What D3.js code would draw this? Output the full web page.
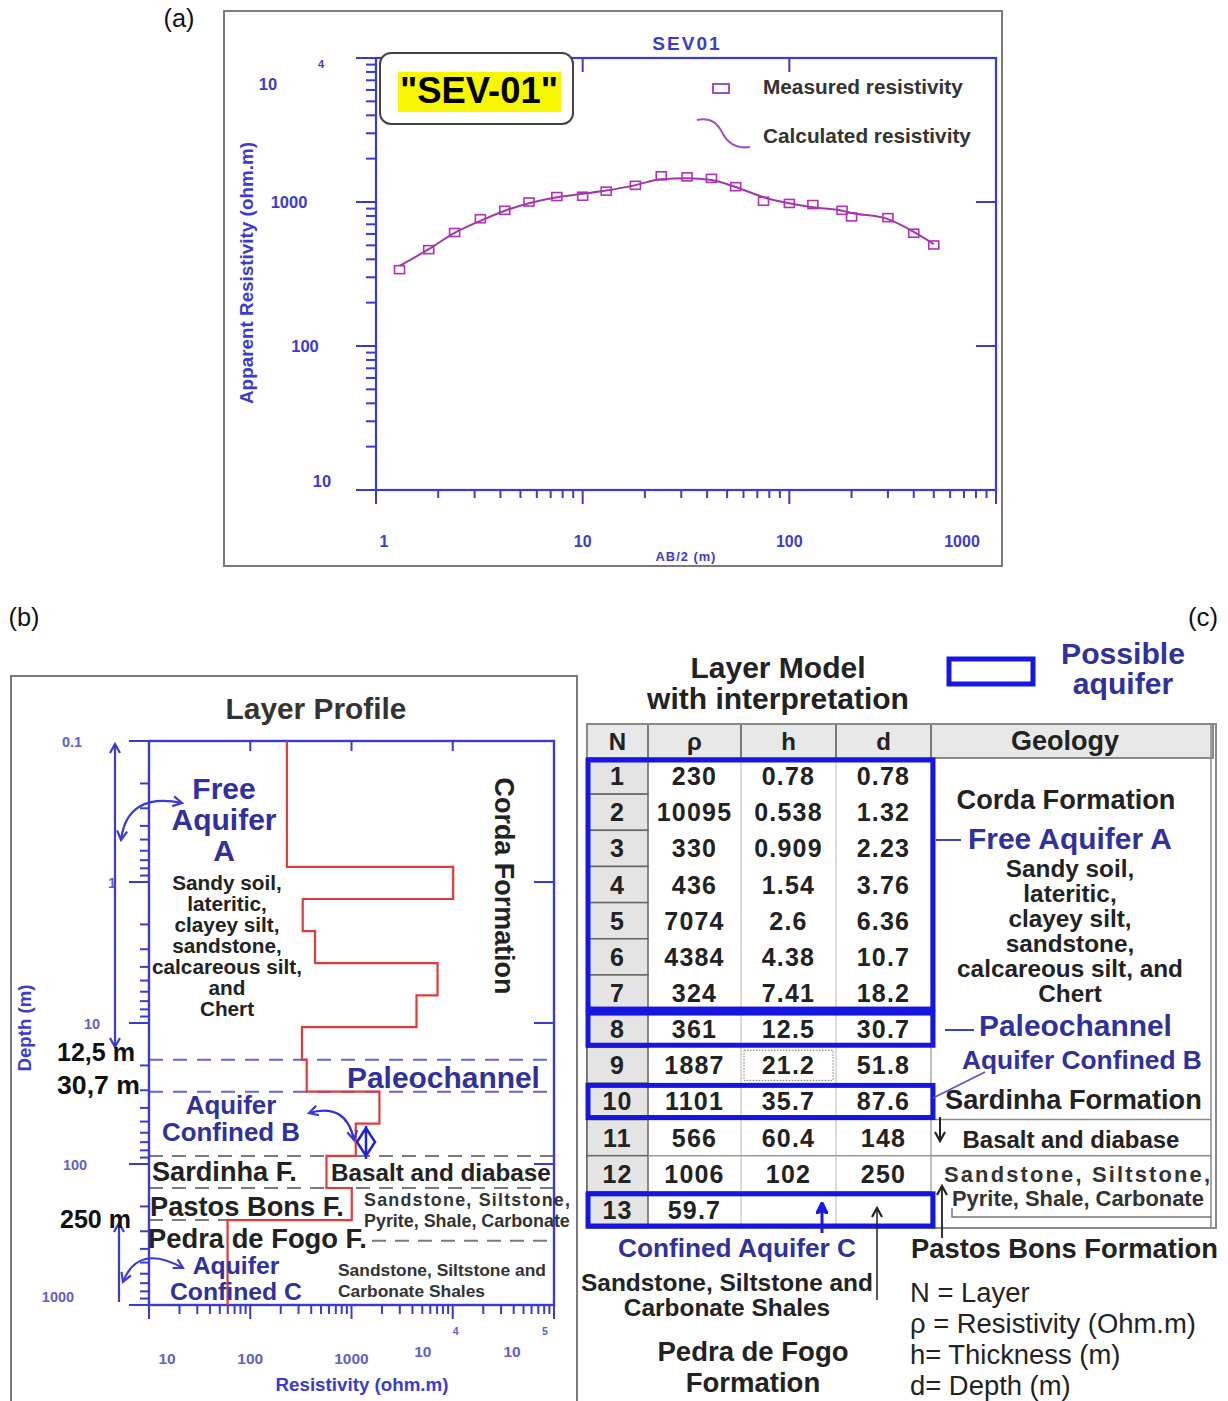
<!DOCTYPE html>
<html><head><meta charset="utf-8">
<script src="https://cdn.jsdelivr.net/npm/d3@7"></script>
<style>body{margin:0;background:#fff}svg{display:block}</style>
</head><body>
<svg id="c" width="1228" height="1401"></svg>
<script>
// ---------------- DATA ----------------
// (a) sounding curve
const ab2 = [1.3,1.8,2.4,3.2,4.2,5.5,7.5,10,13,18,24,32,42,55,75,100,130,180,200,300,400,500];
const rhoMeasured = [339,467,614,765,875,1000,1091,1097,1190,1306,1520,1494,1459,1277,1012,977,960,875,788,779,607,503];
const rhoCalculated = [360,470,610,740,870,980,1080,1140,1200,1310,1440,1460,1420,1270,1080,980,920,870,840,760,620,510];
const ticksA_x = [1,10,100,1000];
const ticksA_y = [10,100,1000,10000];
// (b)/(c) layer model
const layerN = [1,2,3,4,5,6,7,8,9,10,11,12,13];
const layerRho = [230,10095,330,436,7074,4384,324,361,1887,1101,566,1006,59.7];
const layerH = [0.78,0.538,0.909,1.54,2.6,4.38,7.41,12.5,21.2,35.7,60.4,102,null];
const layerD = [0.78,1.32,2.23,3.76,6.36,10.7,18.2,30.7,51.8,87.6,148,250,null];
const aquiferRows = [[1,7],[8,8],[10,10],[13,13]];
const ticksB_depth = [0.1,1,10,100,1000];
const ticksB_res = [10,100,1000,10000,100000];

// ---------------- HELPERS ----------------
const svg = d3.select('#c');
const FF = "'Liberation Sans', Arial, Helvetica, sans-serif";
const AX = '#3b3bd2';
const BT = '#30309e';
const DK = '#222';
const isMajor = v => Math.abs(Math.log10(v) - Math.round(Math.log10(v))) < 1e-6;

function txt(g, lines, o) {
  const t = g.append('text').attr('font-family', FF)
    .attr('font-weight', o.weight || 'bold').attr('fill', o.fill || DK)
    .attr('text-anchor', o.anchor || 'middle').style('font-size', (o.size || 20) + 'px');
  if (o.ls) t.style('letter-spacing', o.ls + 'px');
  const sp = lines.map((s, i) => t.append('tspan').attr('x', o.x).attr('y', o.y + i * (o.lh || 0)).text(s));
  if (o.w) {
    const m = d3.max(sp, s => s.node().getComputedTextLength());
    t.style('font-size', ((o.size || 20) * o.w / m) + 'px');
  }
  if (o.justify) sp.forEach((s, i) => {
    const j = Array.isArray(o.justify) ? o.justify[i] : o.justify;
    if (j) s.attr('textLength', j).attr('lengthAdjust', 'spacing');
  });
  if (o.rot) t.attr('transform', `rotate(${o.rot},${o.x},${o.y})`);
  return t;
}
const defs = svg.append('defs');
function marker(id, color, filled) {
  defs.append('marker').attr('id', id).attr('viewBox', '0 0 12 12').attr('refX', 10).attr('refY', 6)
    .attr('markerWidth', 12).attr('markerHeight', 12).attr('markerUnits', 'userSpaceOnUse')
    .attr('orient', 'auto-start-reverse')
    .append('path').attr('d', filled ? 'M0,0 L12,6 L0,12 L3,6 Z' : 'M1,1 L10,6 L1,11')
    .attr('fill', filled ? color : 'none').attr('stroke', color).attr('stroke-width', 2.2);
}
marker('cb', AX, false); marker('ck', '#222', false); marker('fb', '#1a1ae0', true);

// ---------------- PANEL (a) ----------------
svg.append('rect').attr('x', 224).attr('y', 11).attr('width', 778).attr('height', 555)
  .attr('fill', 'none').attr('stroke', '#7a7a7a').attr('stroke-width', 2);
const xA = d3.scaleLog().domain([1, 1000]).range([376, 996]);
const yA = d3.scaleLog().domain([10, 10000]).range([490, 58]);
const gA = svg.append('g');
gA.append('rect').attr('x', xA(1)).attr('y', yA(10000)).attr('width', xA(1000) - xA(1))
  .attr('height', yA(10) - yA(10000)).attr('fill', 'none').attr('stroke', AX).attr('stroke-width', 2.2);
gA.selectAll('.ly').data(yA.ticks()).join('line')
  .attr('x1', d => xA(1) - (isMajor(d) ? 20 : 10)).attr('x2', xA(1))
  .attr('y1', d => yA(d)).attr('y2', d => yA(d)).attr('stroke', AX).attr('stroke-width', 2);
gA.selectAll('.bx').data(xA.ticks()).join('line')
  .attr('x1', d => xA(d)).attr('x2', d => xA(d))
  .attr('y1', yA(10)).attr('y2', d => yA(10) + (isMajor(d) ? 14 : 8)).attr('stroke', AX).attr('stroke-width', 2);
gA.selectAll('.tx').data([10, 100]).join('line')
  .attr('x1', d => xA(d)).attr('x2', d => xA(d)).attr('y1', yA(10000)).attr('y2', yA(10000) + 14)
  .attr('stroke', AX).attr('stroke-width', 2);
gA.selectAll('.ry').data([100, 1000]).join('line')
  .attr('x1', xA(1000) - 20).attr('x2', xA(1000)).attr('y1', d => yA(d)).attr('y2', d => yA(d))
  .attr('stroke', AX).attr('stroke-width', 2);
// tick labels
const yLabA = {10: [322, -3], 100: [305, 6], 1000: [289, 6]};
ticksA_y.forEach(v => {
  if (v === 10000) {
    txt(gA, ['10'], {x: 268, y: yA(v) + 32, size: 16.5, fill: AX});
    txt(gA, ['4'], {x: 321, y: yA(v) + 10, size: 11, fill: AX});
  } else txt(gA, [String(v)], {x: yLabA[v][0], y: yA(v) + yLabA[v][1], size: 16.5, fill: AX});
});
const xOffA = {1: 8, 10: 0, 100: 0, 1000: -34};
ticksA_x.forEach(v => txt(gA, [String(v)], {x: xA(v) + xOffA[v], y: 547, size: 16, fill: AX}));
txt(gA, ['SEV01'], {x: 687, y: 50, w: 69, fill: AX, ls: 2});
txt(gA, ['Apparent Resistivity (ohm.m)'], {x: 253, y: 273, rot: -90, w: 262, fill: AX});
txt(gA, ['AB/2  (m)'], {x: 686, y: 561, w: 58, fill: AX, ls: 1});
// label box
gA.append('rect').attr('x', 380).attr('y', 53).attr('width', 193).attr('height', 71).attr('rx', 11)
  .attr('fill', '#fff').attr('stroke', '#444').attr('stroke-width', 2);
gA.append('rect').attr('x', 398).attr('y', 72).attr('width', 163).attr('height', 40).attr('fill', '#f7f700');
txt(gA, ['"SEV-01"'], {x: 479, y: 103, w: 158, fill: '#000'});
// curve + markers
gA.append('path').datum(ab2.map((a, i) => [a, rhoCalculated[i]]))
  .attr('d', d3.line().x(d => xA(d[0])).y(d => yA(d[1])).curve(d3.curveMonotoneX))
  .attr('fill', 'none').attr('stroke', '#9e3aa6').attr('stroke-width', 2);
gA.selectAll('.pt').data(ab2.map((a, i) => [a, rhoMeasured[i]])).join('rect')
  .attr('x', d => xA(d[0]) - 5).attr('y', d => yA(d[1]) - 4).attr('width', 10).attr('height', 8)
  .attr('fill', 'none').attr('stroke', '#b030b8').attr('stroke-width', 1.6);
// legend
gA.append('rect').attr('x', 713).attr('y', 84).attr('width', 16).attr('height', 9)
  .attr('fill', 'none').attr('stroke', '#a050c8').attr('stroke-width', 2);
gA.append('path').attr('d', 'M697,120 C712,117 718,124 723,134 C728,143 736,149 750,147')
  .attr('fill', 'none').attr('stroke', '#a050c8').attr('stroke-width', 2);
txt(gA, ['Measured resistivity'], {x: 763, y: 94, anchor: 'start', w: 200, fill: '#333'});
txt(gA, ['Calculated resistivity'], {x: 763, y: 143, anchor: 'start', w: 208, fill: '#333'});
txt(svg, ['(a)'], {x: 179, y: 27, w: 31, weight: 'normal', fill: '#111'});

// ---------------- PANEL (b) ----------------
svg.append('rect').attr('x', 11).attr('y', 676).attr('width', 566).attr('height', 800)
  .attr('fill', 'none').attr('stroke', '#7a7a7a').attr('stroke-width', 2);
const xB = d3.scaleLog().domain([10, 100000]).range([149, 554]);
const yB = d3.scaleLog().domain([0.1, 1000]).range([741, 1305]);
const gB = svg.append('g');
// dashed lines
[layerD[6], layerD[7]].forEach(d => gB.append('line').attr('x1', xB(10)).attr('x2', xB(1e5))
  .attr('y1', yB(d)).attr('y2', yB(d)).attr('stroke', '#6262e0').attr('stroke-width', 2).attr('stroke-dasharray', '14,10'));
[layerD[9], layerD[10]].forEach(d => gB.append('line').attr('x1', xB(10)).attr('x2', xB(1e5))
  .attr('y1', yB(d)).attr('y2', yB(d)).attr('stroke', '#7a7a7a').attr('stroke-width', 2).attr('stroke-dasharray', '14,9'));
gB.append('line').attr('x1', xB(10)).attr('x2', xB(layerRho[11])).attr('y1', yB(layerD[11])).attr('y2', yB(layerD[11]))
  .attr('stroke', '#7a7a7a').attr('stroke-width', 2).attr('stroke-dasharray', '14,9');
gB.append('line').attr('x1', 372).attr('x2', xB(1e5)).attr('y1', yB(350)).attr('y2', yB(350))
  .attr('stroke', '#7a7a7a').attr('stroke-width', 2).attr('stroke-dasharray', '14,9');
// axes
gB.append('rect').attr('x', xB(10)).attr('y', yB(0.1)).attr('width', xB(1e5) - xB(10))
  .attr('height', yB(1000) - yB(0.1)).attr('fill', 'none').attr('stroke', AX).attr('stroke-width', 2.4);
gB.selectAll('.ly').data(yB.ticks()).join('line')
  .attr('x1', d => xB(10) - (isMajor(d) ? 20 : 9)).attr('x2', xB(10))
  .attr('y1', d => yB(d)).attr('y2', d => yB(d)).attr('stroke', AX).attr('stroke-width', 2);
gB.selectAll('.bx').data(xB.ticks()).join('line')
  .attr('x1', d => xB(d)).attr('x2', d => xB(d))
  .attr('y1', yB(1000)).attr('y2', d => yB(1000) + (isMajor(d) ? 14 : 9)).attr('stroke', AX).attr('stroke-width', 2);
gB.selectAll('.tx').data([100, 1000, 10000]).join('line')
  .attr('x1', d => xB(d)).attr('x2', d => xB(d)).attr('y1', yB(0.1)).attr('y2', yB(0.1) + 10)
  .attr('stroke', AX).attr('stroke-width', 2);
gB.selectAll('.ry').data([1, 10, 100]).join('line')
  .attr('x1', xB(1e5) - 20).attr('x2', xB(1e5)).attr('y1', d => yB(d)).attr('y2', d => yB(d))
  .attr('stroke', AX).attr('stroke-width', 2);
const LB = '#6060d0';
const yLabB = {0.1: 72, 1: 112, 10: 92, 100: 75, 1000: 58};
ticksB_depth.forEach(v => txt(gB, [String(v)], {x: yLabB[v], y: yB(v) + (v === 1000 ? -3 : 6), size: 14.5, fill: LB}));
ticksB_res.forEach(v => {
  if (v >= 10000) {
    const e = Math.round(Math.log10(v));
    const off = v === 10000 ? -30 : -42;
    txt(gB, ['10'], {x: xB(v) + off, y: 1357, size: 15.5, fill: LB});
    txt(gB, [String(e)], {x: xB(v) + off + 33, y: 1335, size: 10.5, fill: LB});
  } else txt(gB, [String(v)], {x: xB(v) + (v === 10 ? 18 : 0), y: 1364, size: 15.5, fill: LB});
});
// layer step line
const stepPts = [];
layerRho.forEach((r, i) => {
  const top = i === 0 ? 0.1 : layerD[i - 1];
  const bot = layerD[i] == null ? 1000 : layerD[i];
  stepPts.push([r, top], [r, bot]);
});
gB.append('path').datum(stepPts).attr('d', d3.line().x(d => xB(d[0])).y(d => yB(d[1])))
  .attr('fill', 'none').attr('stroke', '#e23a3a').attr('stroke-width', 2.2);
// arrows
const aStyle = s => s.attr('fill', 'none').attr('stroke', AX).attr('stroke-width', 2.2);
aStyle(gB.append('line').attr('x1', 115).attr('x2', 115).attr('y1', 744).attr('y2', 1047))
  .attr('marker-start', 'url(#cb)').attr('marker-end', 'url(#cb)');
aStyle(gB.append('path').attr('d', 'M121,840 Q127,792 182,803')).attr('marker-start', 'url(#cb)').attr('marker-end', 'url(#cb)');
aStyle(gB.append('line').attr('x1', 119).attr('x2', 119).attr('y1', 1223).attr('y2', 1302)).attr('marker-start', 'url(#cb)');
aStyle(gB.append('path').attr('d', 'M123,1282 Q138,1243 183,1268')).attr('marker-start', 'url(#cb)').attr('marker-end', 'url(#cb)');
aStyle(gB.append('path').attr('d', 'M309,1113 Q346,1102 354,1140')).attr('stroke', '#3030d8').attr('marker-start', 'url(#cb)').attr('marker-end', 'url(#cb)');
gB.append('path').attr('d', 'M357,1142 L366,1128 L375,1142 L366,1156 Z M366,1126 L366,1159')
  .attr('fill', 'none').attr('stroke', '#2020e0').attr('stroke-width', 2.5);
// texts
txt(svg, ['(b)'], {x: 24, y: 626, w: 31, weight: 'normal', fill: '#111'});
txt(gB, ['Layer Profile'], {x: 316, y: 719, w: 181, fill: '#333'});
txt(gB, ['Free', 'Aquifer', 'A'], {x: 224, y: 799, lh: 31, w: 105, fill: BT});
txt(gB, ['Sandy soil,', 'lateritic,', 'clayey silt,', 'sandstone,', 'calcareous silt,', 'and', 'Chert'],
  {x: 227, y: 890, lh: 21, w: 150});
txt(gB, ['Corda Formation'], {x: 495, y: 886, rot: 90, w: 217});
txt(gB, ['Paleochannel'], {x: 347, y: 1088, anchor: 'start', w: 193, fill: BT});
txt(gB, ['12,5 m'], {x: 57, y: 1061, anchor: 'start', w: 78, fill: '#111'});
txt(gB, ['30,7 m'], {x: 57, y: 1094, anchor: 'start', w: 83, fill: '#111'});
txt(gB, ['Aquifer', 'Confined B'], {x: 231, y: 1114, lh: 27, w: 138, fill: BT});
txt(gB, ['Sardinha F.'], {x: 152, y: 1181, anchor: 'start', w: 145, fill: '#222'});
txt(gB, ['Basalt and diabase'], {x: 331, y: 1181, anchor: 'start', w: 220});
txt(gB, ['Pastos Bons F.'], {x: 150, y: 1216, anchor: 'start', w: 194, fill: '#222'});
txt(gB, ['Sandstone,  Siltstone,', 'Pyrite, Shale, Carbonate'], {x: 364, y: 1206, lh: 21, anchor: 'start', w: 206, justify: [206, null], fill: '#333'});
txt(gB, ['250 m'], {x: 60, y: 1228, anchor: 'start', w: 71, fill: '#111'});
txt(gB, ['Pedra de Fogo F.'], {x: 148, y: 1248, anchor: 'start', w: 219, fill: '#222'});
txt(gB, ['Aquifer', 'Confined C'], {x: 236, y: 1274, lh: 26, w: 132, fill: BT});
txt(gB, ['Sandstone, Siltstone and', 'Carbonate Shales'], {x: 338, y: 1276, lh: 21, anchor: 'start', w: 208, fill: '#333'});
txt(gB, ['Depth (m)'], {x: 31, y: 1028, rot: -90, w: 87, fill: AX});
txt(gB, ['Resistivity (ohm.m)'], {x: 362, y: 1391, w: 173, fill: AX});

// ---------------- PANEL (c) ----------------
const gC = svg.append('g');
const colX = [587, 648, 741, 836, 931, 1213];
const rowY = d3.scaleLinear().domain([0, 13]).range([758, 1228]);
const colC = i => (colX[i] + colX[i + 1]) / 2;
// header
gC.append('rect').attr('x', colX[0]).attr('y', 724).attr('width', colX[5] - colX[0]).attr('height', 758 - 724)
  .attr('fill', '#e8e8e8').attr('stroke', '#666').attr('stroke-width', 1.5);
[1, 2, 3, 4].forEach(i => gC.append('line').attr('x1', colX[i]).attr('x2', colX[i]).attr('y1', 724).attr('y2', 758)
  .attr('stroke', '#555').attr('stroke-width', 1.5));
// body outline
gC.append('rect').attr('x', colX[0]).attr('y', 724).attr('width', 1216 - colX[0]).attr('height', rowY(13) - 724)
  .attr('fill', 'none').attr('stroke', '#8a8a8a').attr('stroke-width', 2);
gC.append('line').attr('x1', 1211).attr('x2', 1211).attr('y1', 724).attr('y2', rowY(13)).attr('stroke', '#8a8a8a').attr('stroke-width', 1.5);
// N cells
gC.selectAll('.nc').data(layerN).join('rect')
  .attr('x', colX[0]).attr('y', (d, i) => rowY(i)).attr('width', colX[1] - colX[0]).attr('height', rowY(1) - rowY(0))
  .attr('fill', '#e4e4e4').attr('stroke', '#666').attr('stroke-width', 1.5);
// inner column lines
[2, 3].forEach(i => gC.append('line').attr('x1', colX[i]).attr('x2', colX[i]).attr('y1', 758).attr('y2', rowY(13))
  .attr('stroke', '#cfcfcf').attr('stroke-width', 1.5));
gC.append('line').attr('x1', colX[4]).attr('x2', colX[4]).attr('y1', 758).attr('y2', rowY(13)).attr('stroke', '#aaa').attr('stroke-width', 1.5);
[10, 11, 12].forEach(r => gC.append('line').attr('x1', colX[1]).attr('x2', colX[4]).attr('y1', rowY(r)).attr('y2', rowY(r))
  .attr('stroke', '#999').attr('stroke-width', 1.5));
[10, 11].forEach(r => gC.append('line').attr('x1', colX[4]).attr('x2', 1211).attr('y1', rowY(r)).attr('y2', rowY(r))
  .attr('stroke', '#888').attr('stroke-width', 1.5));
gC.append('path').attr('d', `M952,1208 L952,1217 L1211,1217`).attr('fill', 'none').attr('stroke', '#777').attr('stroke-width', 1.5);
// selected cell (row 9, h)
gC.append('rect').attr('x', colX[2] + 3).attr('y', rowY(8) + 3).attr('width', colX[3] - colX[2] - 6).attr('height', rowY(9) - rowY(8) - 6)
  .attr('fill', 'none').attr('stroke', '#777').attr('stroke-width', 1).attr('stroke-dasharray', '1.5,1.5');
// header texts
const TF = {size: 25, ls: 1.2};
[['N', 0], ['ρ', 1], ['h', 2], ['d', 3]].forEach(([s, i]) => txt(gC, [s], {x: colC(i), y: 750, size: 24, fill: '#222'}));
txt(gC, ['Geology'], {x: 1065, y: 750, w: 108, fill: '#222'});
// cell values
const fmt = v => v == null ? '' : String(v);
layerN.forEach((n, i) => {
  const y = rowY(i + 0.5) + 9;
  txt(gC, [String(n)], {x: colC(0), y, size: TF.size, ls: TF.ls, fill: '#222'});
  txt(gC, [fmt(layerRho[i])], {x: colC(1), y, size: TF.size, ls: TF.ls, fill: '#222'});
  txt(gC, [fmt(layerH[i])], {x: colC(2), y, size: TF.size, ls: TF.ls, fill: '#222'});
  txt(gC, [fmt(layerD[i])], {x: colC(3), y, size: TF.size, ls: TF.ls, fill: '#222'});
});
// aquifer boxes
gC.selectAll('.aq').data(aquiferRows).join('rect')
  .attr('x', colX[0] + 1).attr('y', d => rowY(d[0] - 1) + 2).attr('width', colX[4] + 2 - colX[0] - 1)
  .attr('height', d => rowY(d[1]) - rowY(d[0] - 1) - 4)
  .attr('fill', 'none').attr('stroke', '#1616e0').attr('stroke-width', 5);
// legend box
gC.append('rect').attr('x', 949).attr('y', 659).attr('width', 84).attr('height', 25)
  .attr('fill', 'none').attr('stroke', '#1616e0').attr('stroke-width', 5);
txt(svg, ['(c)'], {x: 1203, y: 626, w: 30, weight: 'normal', fill: '#111'});
txt(gC, ['Layer Model', 'with interpretation'], {x: 778, y: 678, lh: 31, w: 262});
txt(gC, ['Possible', 'aquifer'], {x: 1123, y: 664, lh: 30, w: 124, fill: BT});
txt(gC, ['Corda Formation'], {x: 1066, y: 809, w: 219});
txt(gC, ['Free Aquifer A'], {x: 968, y: 849, anchor: 'start', w: 204, fill: BT});
txt(gC, ['Sandy soil,', 'lateritic,', 'clayey silt,', 'sandstone,', 'calcareous silt, and', 'Chert'],
  {x: 1070, y: 877, lh: 25, w: 226});
txt(gC, ['Paleochannel'], {x: 979, y: 1036, anchor: 'start', w: 193, fill: BT});
txt(gC, ['Aquifer Confined B'], {x: 962, y: 1069, anchor: 'start', w: 240, fill: BT});
txt(gC, ['Sardinha Formation'], {x: 945, y: 1109, anchor: 'start', w: 257});
txt(gC, ['Basalt and diabase'], {x: 1071, y: 1148, w: 217});
const pyr = txt(gC, ['Pyrite, Shale, Carbonate'], {x: 952, y: 1206, anchor: 'start', w: 252, fill: '#333'});
txt(gC, ['Sandstone,  Siltstone,'], {x: 944, y: 1182, anchor: 'start', size: parseFloat(pyr.style('font-size')), justify: 266, fill: '#333'});
txt(gC, ['Confined Aquifer C'], {x: 737, y: 1257, w: 238, fill: BT});
txt(gC, ['Sandstone, Siltstone and', 'Carbonate Shales'], {x: 727, y: 1291, lh: 25, w: 292});
txt(gC, ['Pedra de Fogo', 'Formation'], {x: 753, y: 1361, lh: 31, w: 191});
txt(gC, ['Pastos Bons Formation'], {x: 911, y: 1258, anchor: 'start', w: 307});
txt(gC, ['N = Layer', 'ρ = Resistivity (Ohm.m)', 'h= Thickness (m)', 'd= Depth (m)'],
  {x: 910, y: 1302, lh: 31, anchor: 'start', w: 286, weight: 'normal'});
// connector lines and arrows
const ln = (x1, y1, x2, y2, c, w) => gC.append('line').attr('x1', x1).attr('y1', y1).attr('x2', x2).attr('y2', y2)
  .attr('stroke', c).attr('stroke-width', w);
ln(936, 840, 961, 840, '#4040c0', 2);
ln(945, 1030, 974, 1030, '#4040c0', 2);
ln(933, 1098, 985, 1072, '#5050c8', 1.5);
ln(940, 1117, 940, 1141, '#222', 2).attr('marker-end', 'url(#ck)');
ln(942, 1238, 942, 1186, '#222', 1.8).attr('marker-end', 'url(#ck)');
ln(877, 1300, 877, 1208, '#222', 1.5).attr('marker-end', 'url(#ck)');
ln(822, 1233, 822, 1204, '#1a1ae0', 3).attr('marker-end', 'url(#fb)');
</script>
</body></html>
